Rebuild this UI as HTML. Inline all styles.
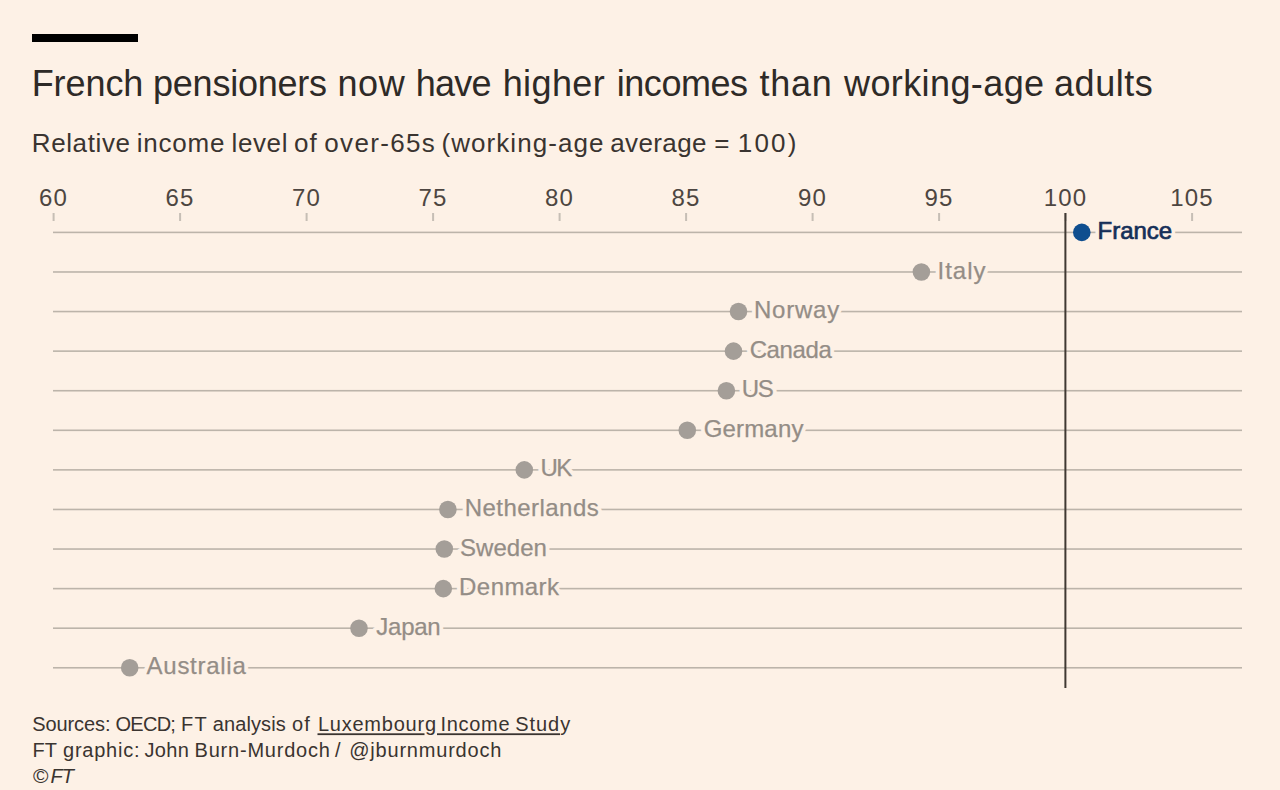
<!DOCTYPE html>
<html><head><meta charset="utf-8"><style>
html,body{margin:0;padding:0;background:#fdf1e6;}
body{width:1280px;height:790px;overflow:hidden;}
svg{display:block;font-family:"Liberation Sans",sans-serif;}
</style></head><body>
<svg width="1280" height="790" viewBox="0 0 1280 790">
<rect width="1280" height="790" fill="#fdf1e6"/>
<rect x="32" y="34" width="106" height="8" fill="#000"/>
<text x="31.7" y="95.8" font-size="36" letter-spacing="-0.08" fill="#2e2a27">French</text>
<text x="153.0" y="95.8" font-size="36" letter-spacing="-0.222" fill="#2e2a27">pensioners</text>
<text x="337.4" y="95.8" font-size="36" letter-spacing="0.6" fill="#2e2a27">now</text>
<text x="415.8" y="95.8" font-size="36" letter-spacing="-0.8" fill="#2e2a27">have</text>
<text x="502.7" y="95.8" font-size="36" letter-spacing="0.4" fill="#2e2a27">higher</text>
<text x="616.75" y="95.8" font-size="36" letter-spacing="-0.45" fill="#2e2a27">incomes</text>
<text x="759.4" y="95.8" font-size="36" letter-spacing="0.733" fill="#2e2a27">than</text>
<text x="844.0" y="95.8" font-size="36" letter-spacing="0.4" fill="#2e2a27">working-age</text>
<text x="1054.0" y="95.8" font-size="36" letter-spacing="0.56" fill="#2e2a27">adults</text>
<text x="31.75" y="151.6" font-size="26" letter-spacing="0.614" fill="#3a3430">Relative</text>
<text x="136.8" y="151.6" font-size="26" letter-spacing="0.78" fill="#3a3430">income</text>
<text x="231.5" y="151.6" font-size="26" letter-spacing="0.625" fill="#3a3430">level</text>
<text x="294.0" y="151.6" font-size="26" letter-spacing="1.0" fill="#3a3430">of</text>
<text x="324.3" y="151.6" font-size="26" letter-spacing="1.343" fill="#3a3430">over-65s</text>
<text x="441.5" y="151.6" font-size="26" letter-spacing="1.055" fill="#3a3430">(working-age</text>
<text x="610.25" y="151.6" font-size="26" letter-spacing="0.383" fill="#3a3430">average</text>
<text x="714.3" y="151.6" font-size="26" letter-spacing="0" fill="#3a3430">=</text>
<text x="737.8" y="151.6" font-size="26" letter-spacing="2.2" fill="#3a3430">100)</text>
<rect x="52.60" y="213" width="2" height="8" fill="#c6beb5"/>
<text x="53.60" y="205.5" font-size="24" text-anchor="middle" letter-spacing="1.2" fill="#4d4641">60</text>
<rect x="179.10" y="213" width="2" height="8" fill="#c6beb5"/>
<text x="180.10" y="205.5" font-size="24" text-anchor="middle" letter-spacing="1.2" fill="#4d4641">65</text>
<rect x="305.60" y="213" width="2" height="8" fill="#c6beb5"/>
<text x="306.60" y="205.5" font-size="24" text-anchor="middle" letter-spacing="1.2" fill="#4d4641">70</text>
<rect x="432.10" y="213" width="2" height="8" fill="#c6beb5"/>
<text x="433.10" y="205.5" font-size="24" text-anchor="middle" letter-spacing="1.2" fill="#4d4641">75</text>
<rect x="558.60" y="213" width="2" height="8" fill="#c6beb5"/>
<text x="559.60" y="205.5" font-size="24" text-anchor="middle" letter-spacing="1.2" fill="#4d4641">80</text>
<rect x="685.10" y="213" width="2" height="8" fill="#c6beb5"/>
<text x="686.10" y="205.5" font-size="24" text-anchor="middle" letter-spacing="1.2" fill="#4d4641">85</text>
<rect x="811.60" y="213" width="2" height="8" fill="#c6beb5"/>
<text x="812.60" y="205.5" font-size="24" text-anchor="middle" letter-spacing="1.2" fill="#4d4641">90</text>
<rect x="938.10" y="213" width="2" height="8" fill="#c6beb5"/>
<text x="939.10" y="205.5" font-size="24" text-anchor="middle" letter-spacing="1.2" fill="#4d4641">95</text>
<rect x="1064.60" y="213" width="2" height="8" fill="#c6beb5"/>
<text x="1065.60" y="205.5" font-size="24" text-anchor="middle" letter-spacing="1.2" fill="#4d4641">100</text>
<rect x="1191.10" y="213" width="2" height="8" fill="#c6beb5"/>
<text x="1192.10" y="205.5" font-size="24" text-anchor="middle" letter-spacing="1.2" fill="#4d4641">105</text>
<rect x="53" y="231.60" width="1189" height="1.6" fill="#bcb4aa"/>
<rect x="53" y="271.18" width="1189" height="1.6" fill="#bcb4aa"/>
<rect x="53" y="310.76" width="1189" height="1.6" fill="#bcb4aa"/>
<rect x="53" y="350.34" width="1189" height="1.6" fill="#bcb4aa"/>
<rect x="53" y="389.92" width="1189" height="1.6" fill="#bcb4aa"/>
<rect x="53" y="429.50" width="1189" height="1.6" fill="#bcb4aa"/>
<rect x="53" y="469.08" width="1189" height="1.6" fill="#bcb4aa"/>
<rect x="53" y="508.66" width="1189" height="1.6" fill="#bcb4aa"/>
<rect x="53" y="548.24" width="1189" height="1.6" fill="#bcb4aa"/>
<rect x="53" y="587.82" width="1189" height="1.6" fill="#bcb4aa"/>
<rect x="53" y="627.40" width="1189" height="1.6" fill="#bcb4aa"/>
<rect x="53" y="666.98" width="1189" height="1.6" fill="#bcb4aa"/>
<rect x="1064.4" y="213" width="2" height="475" fill="#403933"/>
<circle cx="1081.8" cy="232.40" r="8.8" fill="#0f4e8f"/>
<text x="1097.50" y="239.40" font-size="24" letter-spacing="0.0" fill="#fdf1e6" stroke="#fdf1e6" stroke-width="8" stroke-linejoin="round">France</text>
<text x="1097.50" y="239.40" font-size="24" letter-spacing="0.0" fill="#152f58" stroke="#152f58" stroke-width="0.7">France</text>
<circle cx="921.4" cy="271.98" r="8.8" fill="#a49e98"/>
<text x="937.60" y="278.58" font-size="24" letter-spacing="0.95" fill="#fdf1e6" stroke="#fdf1e6" stroke-width="8" stroke-linejoin="round">Italy</text>
<text x="937.60" y="278.58" font-size="24" letter-spacing="0.95" fill="#948d86" stroke="#948d86" stroke-width="0.25">Italy</text>
<circle cx="738.5" cy="311.56" r="8.8" fill="#a49e98"/>
<text x="753.90" y="318.16" font-size="24" letter-spacing="0.8" fill="#fdf1e6" stroke="#fdf1e6" stroke-width="8" stroke-linejoin="round">Norway</text>
<text x="753.90" y="318.16" font-size="24" letter-spacing="0.8" fill="#948d86" stroke="#948d86" stroke-width="0.25">Norway</text>
<circle cx="733.5" cy="351.14" r="8.8" fill="#a49e98"/>
<text x="749.70" y="357.74" font-size="24" letter-spacing="-0.4" fill="#fdf1e6" stroke="#fdf1e6" stroke-width="8" stroke-linejoin="round">Canada</text>
<text x="749.70" y="357.74" font-size="24" letter-spacing="-0.4" fill="#948d86" stroke="#948d86" stroke-width="0.25">Canada</text>
<circle cx="726.4" cy="390.72" r="8.8" fill="#a49e98"/>
<text x="741.70" y="397.32" font-size="24" letter-spacing="-1.3" fill="#fdf1e6" stroke="#fdf1e6" stroke-width="8" stroke-linejoin="round">US</text>
<text x="741.70" y="397.32" font-size="24" letter-spacing="-1.3" fill="#948d86" stroke="#948d86" stroke-width="0.25">US</text>
<circle cx="687.3" cy="430.30" r="8.8" fill="#a49e98"/>
<text x="703.70" y="436.90" font-size="24" letter-spacing="0.17" fill="#fdf1e6" stroke="#fdf1e6" stroke-width="8" stroke-linejoin="round">Germany</text>
<text x="703.70" y="436.90" font-size="24" letter-spacing="0.17" fill="#948d86" stroke="#948d86" stroke-width="0.25">Germany</text>
<circle cx="524.3" cy="469.88" r="8.8" fill="#a49e98"/>
<text x="540.60" y="476.48" font-size="24" letter-spacing="-1.8" fill="#fdf1e6" stroke="#fdf1e6" stroke-width="8" stroke-linejoin="round">UK</text>
<text x="540.60" y="476.48" font-size="24" letter-spacing="-1.8" fill="#948d86" stroke="#948d86" stroke-width="0.25">UK</text>
<circle cx="447.9" cy="509.46" r="8.8" fill="#a49e98"/>
<text x="464.70" y="516.06" font-size="24" letter-spacing="0.46" fill="#fdf1e6" stroke="#fdf1e6" stroke-width="8" stroke-linejoin="round">Netherlands</text>
<text x="464.70" y="516.06" font-size="24" letter-spacing="0.46" fill="#948d86" stroke="#948d86" stroke-width="0.25">Netherlands</text>
<circle cx="444.3" cy="549.04" r="8.8" fill="#a49e98"/>
<text x="460.10" y="555.64" font-size="24" letter-spacing="0.0" fill="#fdf1e6" stroke="#fdf1e6" stroke-width="8" stroke-linejoin="round">Sweden</text>
<text x="460.10" y="555.64" font-size="24" letter-spacing="0.0" fill="#948d86" stroke="#948d86" stroke-width="0.25">Sweden</text>
<circle cx="443.3" cy="588.62" r="8.8" fill="#a49e98"/>
<text x="459.10" y="595.22" font-size="24" letter-spacing="0.43" fill="#fdf1e6" stroke="#fdf1e6" stroke-width="8" stroke-linejoin="round">Denmark</text>
<text x="459.10" y="595.22" font-size="24" letter-spacing="0.43" fill="#948d86" stroke="#948d86" stroke-width="0.25">Denmark</text>
<circle cx="359.0" cy="628.20" r="8.8" fill="#a49e98"/>
<text x="376.30" y="634.80" font-size="24" letter-spacing="-0.25" fill="#fdf1e6" stroke="#fdf1e6" stroke-width="8" stroke-linejoin="round">Japan</text>
<text x="376.30" y="634.80" font-size="24" letter-spacing="-0.25" fill="#948d86" stroke="#948d86" stroke-width="0.25">Japan</text>
<circle cx="129.7" cy="667.78" r="8.8" fill="#a49e98"/>
<text x="146.60" y="674.38" font-size="24" letter-spacing="0.72" fill="#fdf1e6" stroke="#fdf1e6" stroke-width="8" stroke-linejoin="round">Australia</text>
<text x="146.60" y="674.38" font-size="24" letter-spacing="0.72" fill="#948d86" stroke="#948d86" stroke-width="0.25">Australia</text>
<text x="32.2" y="730.75" font-size="20" letter-spacing="-0.086" fill="#3a3430">Sources:</text>
<text x="115.4" y="730.75" font-size="20" letter-spacing="-0.7" fill="#3a3430">OECD;</text>
<text x="181.0" y="730.75" font-size="20" letter-spacing="1.2" fill="#3a3430">FT</text>
<text x="212.7" y="730.75" font-size="20" letter-spacing="0.114" fill="#3a3430">analysis</text>
<text x="291.9" y="730.75" font-size="20" letter-spacing="1.2" fill="#3a3430">of</text>
<text x="317.9" y="730.75" font-size="20" letter-spacing="0.778" fill="#3a3430">Luxembourg</text>
<text x="440.4" y="730.75" font-size="20" letter-spacing="0.72" fill="#3a3430">Income</text>
<text x="515.2" y="730.75" font-size="20" letter-spacing="0.95" fill="#3a3430">Study</text>
<rect x="317.5" y="733.3" width="107" height="1.8" fill="#3a3430"/>
<rect x="437" y="733.3" width="123" height="1.8" fill="#3a3430"/>
<text x="32.5" y="757" font-size="20" letter-spacing="0.0" fill="#3a3430">FT</text>
<text x="63.0" y="757" font-size="20" letter-spacing="0.771" fill="#3a3430">graphic:</text>
<text x="144.4" y="757" font-size="20" letter-spacing="0.4" fill="#3a3430">John</text>
<text x="194.6" y="757" font-size="20" letter-spacing="0.782" fill="#3a3430">Burn-Murdoch</text>
<text x="335.0" y="757" font-size="20" letter-spacing="0" fill="#3a3430">/</text>
<text x="349.2" y="757" font-size="20" letter-spacing="0.8" fill="#3a3430">@jburnmurdoch</text>
<text x="33.1" y="782.8" font-size="21" fill="#3a3430">©</text>
<text x="50.6" y="782.8" font-size="20" font-style="italic" letter-spacing="-1" fill="#3a3430">FT</text>
</svg>
</body></html>
